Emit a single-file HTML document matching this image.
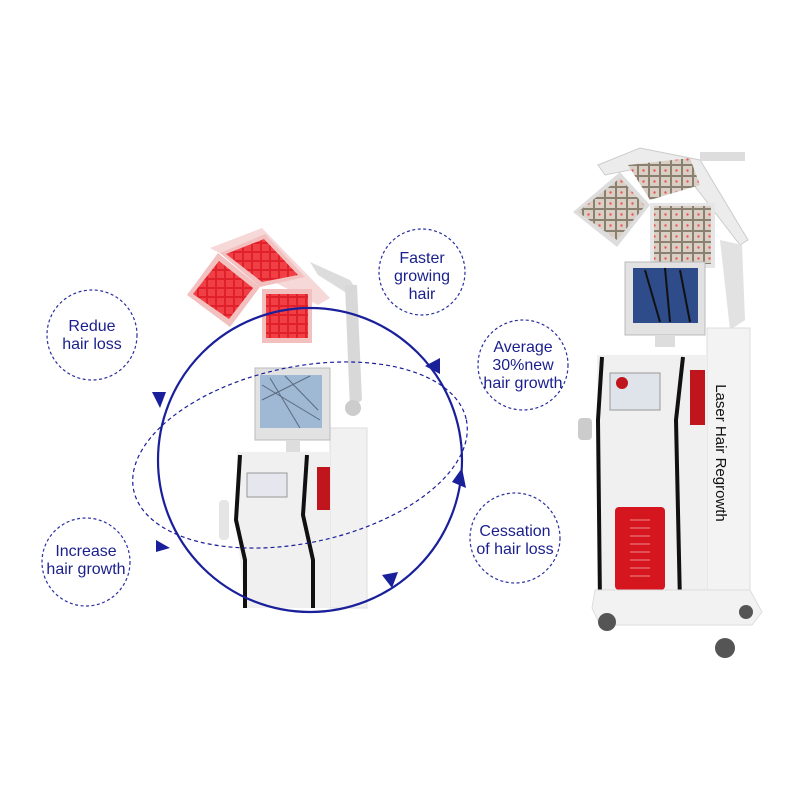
<!DOCTYPE html>
<html><head><style>
html,body{margin:0;padding:0;background:#fff;width:800px;height:800px;overflow:hidden}
svg{display:block}
text{font-family:"Liberation Sans",sans-serif;fill:#1a1f8c;font-size:16px;text-anchor:middle}
</style></head><body>
<svg width="800" height="800" viewBox="0 0 800 800">
<defs>
<pattern id="grid" width="9" height="9" patternUnits="userSpaceOnUse"><rect width="9" height="9" fill="#e0202a"/><rect x="1" y="1" width="7" height="7" fill="#f04045"/></pattern>
<pattern id="grid2" width="11" height="11" patternUnits="userSpaceOnUse"><rect width="11" height="11" fill="#8a8070"/><rect x="1" y="1" width="9" height="9" fill="#d9cfc5"/><circle cx="5.5" cy="5.5" r="1.2" fill="#e55"/></pattern>
</defs>

<!-- left machine -->
<g>
<polygon points="210,248 262,228 330,298 318,305" fill="#f6d8d8"/>
<polygon points="187,295 218,253 260,287 230,327" fill="#f3c0c0"/>
<polygon points="193,294 219,261 253,288 229,319" fill="url(#grid)"/>
<polygon points="220,253 265,234 305,277 260,287" fill="#f3c0c0"/>
<polygon points="226,254 264,239 298,275 262,282" fill="url(#grid)"/>
<rect x="262" y="289" width="50" height="54" fill="#f3c0c0"/>
<rect x="266" y="294" width="42" height="44" fill="url(#grid)"/>
<polygon points="310,262 350,280 357,290 345,292 318,275" fill="#dcdcdc"/>
<polygon points="345,285 357,285 362,400 350,410" fill="#d8d8d8"/>
<circle cx="353" cy="408" r="8" fill="#ccc"/>
<rect x="330" y="428" width="37" height="180" fill="#f1f1f1" stroke="#ddd"/>
<rect x="255" y="368" width="75" height="72" fill="#e2e2e2" stroke="#bbb"/>
<rect x="260" y="375" width="62" height="53" fill="#9fb8d3"/>
<path d="M262,385 L320,420 M270,378 L300,428 M285,376 L318,410 M262,400 L310,376" stroke="#5a6a80" stroke-width="1" fill="none"/>
<rect x="286" y="440" width="14" height="12" fill="#ddd"/>
<path d="M237,452 L330,452 L330,608 L245,608 L240,560 L237,520 Z" fill="#f0f0f0"/>
<path d="M240,455 L236,520 L245,560 L245,608" stroke="#111" stroke-width="4" fill="none"/>
<path d="M307,455 L303,515 L313,560 L313,608" stroke="#111" stroke-width="4" fill="none"/>
<rect x="317" y="467" width="13" height="43" fill="#c0151c"/>
<rect x="247" y="473" width="40" height="24" fill="#e6e6ee" stroke="#999"/>
<rect x="219" y="500" width="10" height="40" rx="4" fill="#e5e5e5"/>
</g>

<!-- orbits -->
<g fill="none" stroke="#1a1f9a">
<circle cx="310" cy="460" r="152" stroke-width="2.2"/>
<ellipse cx="300" cy="455" rx="170" ry="88" transform="rotate(-12 300 455)" stroke-width="1.2" stroke-dasharray="4 3"/>
</g>
<g fill="#1a1f9a">
<polygon points="152,392 166,392 160,408"/>
<polygon points="452,482 462,468 466,488"/>
<polygon points="382,575 398,572 392,588"/>
<polygon points="425,366 440,358 440,374"/>
<polygon points="156,540 170,548 156,552"/>
</g>

<!-- bubbles -->
<g fill="#fff" stroke="#2a2fa0" stroke-width="1.2" stroke-dasharray="3 2.5">
<circle cx="422" cy="272" r="43"/>
<circle cx="92" cy="335" r="45"/>
<circle cx="523" cy="365" r="45"/>
<circle cx="86" cy="562" r="44"/>
<circle cx="515" cy="538" r="45"/>
</g>
<text x="422" y="263">Faster</text><text x="422" y="281">growing</text><text x="422" y="299">hair</text>
<text x="92" y="331">Redue</text><text x="92" y="349">hair loss</text>
<text x="523" y="352">Average</text><text x="523" y="370">30%new</text><text x="523" y="388">hair growth</text>
<text x="86" y="556">Increase</text><text x="86" y="574">hair growth</text>
<text x="515" y="536">Cessation</text><text x="515" y="554">of hair loss</text>

<!-- right machine -->
<g>
<polygon points="598,165 640,148 700,160 748,240 740,245 690,180 640,168 605,175" fill="#ececec" stroke="#ccc"/>
<rect x="700" y="152" width="45" height="9" fill="#ddd"/>
<polygon points="573,212 620,172 650,205 617,247" fill="#ddd"/>
<polygon points="578,212 620,178 645,206 617,240" fill="url(#grid2)"/>
<polygon points="628,165 690,158 700,185 650,200" fill="url(#grid2)"/>
<rect x="650" y="203" width="65" height="65" fill="#e6e6e6"/>
<rect x="654" y="206" width="57" height="58" fill="url(#grid2)"/>
<polygon points="720,240 742,245 745,320 730,330" fill="#e2e2e2"/>
<rect x="625" y="262" width="80" height="73" fill="#e2e2e2" stroke="#bbb"/>
<rect x="633" y="268" width="65" height="55" fill="#2e4c8a"/>
<path d="M645,270 L660,322 M665,268 L670,322 M680,270 L690,322" stroke="#111" stroke-width="2" fill="none"/>
<rect x="655" y="335" width="20" height="12" fill="#ddd"/>
<rect x="707" y="328" width="43" height="275" fill="#f3f3f3" stroke="#ddd"/>
<path d="M597,355 L707,355 L707,603 L600,603 L598,480 Z" fill="#f0f0f0"/>
<path d="M602,357 L598,420 L600,603" stroke="#111" stroke-width="4" fill="none"/>
<path d="M683,357 L676,420 L680,603" stroke="#111" stroke-width="4" fill="none"/>
<rect x="690" y="370" width="15" height="55" fill="#c0151c"/>
<rect x="610" y="373" width="50" height="37" fill="#dfe4ea" stroke="#999"/>
<circle cx="622" cy="383" r="6" fill="#c0151c"/>
<rect x="615" y="507" width="50" height="83" rx="4" fill="#d5161f"/>
<g stroke="#f08a8a" stroke-width="1"><path d="M630,520h20M630,528h20M630,536h20M630,544h20M630,552h20M630,560h20M630,568h20M630,576h20"/></g>
<rect x="578" y="418" width="14" height="22" rx="4" fill="#ccc"/>
<polygon points="595,590 750,590 762,612 752,625 600,625 592,608" fill="#f2f2f2" stroke="#ddd"/>
<circle cx="607" cy="622" r="9" fill="#555"/>
<circle cx="725" cy="648" r="10" fill="#555"/>
<circle cx="746" cy="612" r="7" fill="#555"/>
<text x="0" y="0" transform="translate(716,453) rotate(90)" style="fill:#111;font-size:15px">Laser Hair Regrowth</text>
</g>
</svg>
</body></html>
